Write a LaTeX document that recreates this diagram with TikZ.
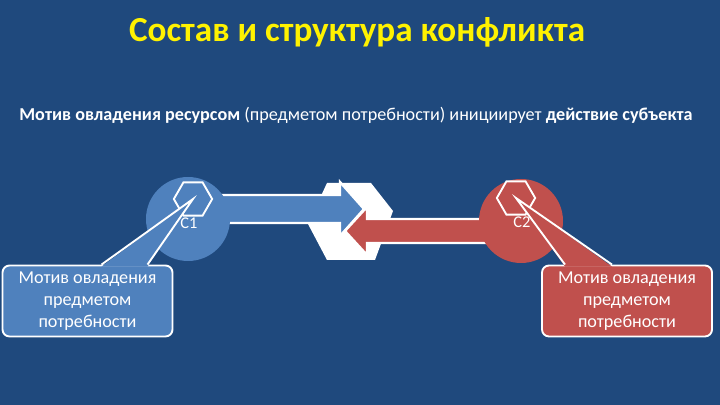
\documentclass[tikz,border=0pt]{standalone}
\usepackage{fontspec}
\setmainfont{Carlito}
\usetikzlibrary{shapes.geometric, calc}

\definecolor{bg}{RGB}{31,73,125}
\definecolor{sblue}{RGB}{79,129,189}
\definecolor{sred}{RGB}{192,80,77}

\begin{document}
\begin{tikzpicture}[x=0.03cm, y=-0.03cm,
  subj/.style={circle, minimum size=2.52cm, inner sep=0pt},
  hexa/.style={regular polygon, regular polygon sides=6, draw=white, line width=1.6pt, minimum size=1.15cm, inner sep=0pt},
  clabel/.style={text=white, font=\fontsize{14}{15}\selectfont},
  motive/.style={draw=white, line width=1.6pt, rounded corners=6pt, minimum width=5.1cm, minimum height=2.13cm, align=center, text=white, font=\fontsize{15.5}{19}\selectfont},
  outline/.style={draw=white, line width=2pt}]
  \fill[bg] (0,0) rectangle (720,405);

  \node[text=yellow, font=\bfseries\fontsize{30}{34}\selectfont] (title) at (357,32) {Состав и структура конфликта};
  \node[text=white, font=\fontsize{15.5}{18}\selectfont] (sub) at (356,115) {\textbf{Мотив овладения ресурсом} (предметом потребности) инициирует \textbf{действие субъекта}};

  % arrows between the subjects
  \fill[white] (308,224) -- (327,183) -- (371,183) -- (393,211) -- (375,260) -- (327,260) -- cycle;
  \filldraw[outline, fill=sblue] (215,195) -- (340,195) -- (340,182) -- (364,209) -- (340,236) -- (340,223) -- (215,223) -- cycle;
  \filldraw[outline, fill=sred] (490,219) -- (367,219) -- (367,207) -- (345,231) -- (367,255) -- (367,243) -- (490,243) -- cycle;

  \node[subj, fill=sblue] (c1) at (188,219) {};
  \node[subj, fill=sred] (c2) at (521,221) {};
  \node[hexa] (hex1) at (193,199) {};
  \node[hexa] (hex2) at (516,198) {};
  \node[clabel] at (189,223) {C1};
  \node[clabel] at (522,222) {C2};

  \node[motive, fill=sblue] (m1) at (87.5,301) {Мотив овладения\\предметом\\потребности};
  \node[motive, fill=sred] (m2) at (627,301) {Мотив овладения\\предметом\\потребности};

  \fill[sblue] ([shift={(14,2)}]m1.north) -- (hex1.center) -- ([shift={(60,2)}]m1.north) -- cycle;
  \draw[white, line width=1.6pt] ([shift={(14,0)}]m1.north) -- (hex1.center) -- ([shift={(60,0)}]m1.north);
  \fill[sred] ([shift={(-62,2)}]m2.north) -- (hex2.center) -- ([shift={(-15,2)}]m2.north) -- cycle;
  \draw[white, line width=1.6pt] ([shift={(-62,0)}]m2.north) -- (hex2.center) -- ([shift={(-15,0)}]m2.north);
\end{tikzpicture}
\end{document}
